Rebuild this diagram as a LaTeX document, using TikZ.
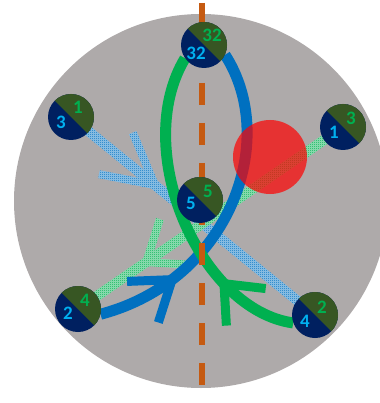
\documentclass[tikz,border=0pt]{standalone}
\usepackage{fontspec}
\setmainfont{Carlito}
\usetikzlibrary{calc,patterns,backgrounds,decorations.markings}

\definecolor{discgrey}{HTML}{AEAAAA}
\definecolor{navy}{HTML}{002060}
\definecolor{dkgreen}{HTML}{375623}
\definecolor{numgreen}{HTML}{00B050}
\definecolor{numblue}{HTML}{00B0F0}
\definecolor{lineblue}{HTML}{0070C0}
\definecolor{axisorange}{HTML}{C55A11}

\pgfdeclarepatternformonly{finecheck}{\pgfpointorigin}{\pgfpoint{2pt}{2pt}}{\pgfpoint{2pt}{2pt}}{%
    \pgfpathrectangle{\pgfpointorigin}{\pgfpoint{1pt}{1pt}}%
    \pgfpathrectangle{\pgfpoint{1pt}{1pt}}{\pgfpoint{1pt}{1pt}}%
    \pgfusepath{fill}}

\begin{document}
\begin{tikzpicture}[x=1pt, y=-1pt,
    sphere/.style={circle, minimum size=46pt, inner sep=0pt, fill=navy,
        path picture={\fill[dkgreen] (path picture bounding box.north west)
            -- (path picture bounding box.north east)
            -- (path picture bounding box.south east) -- cycle;}},
    gnum/.style={text=numgreen, inner sep=0pt, font=\fontsize{19}{19}\selectfont\bfseries},
    bnum/.style={text=numblue, inner sep=0pt, font=\fontsize{19}{19}\selectfont\bfseries},
    flow/.style={line width=11pt},
    hatch/.style={fill=#1!40!white, postaction={pattern=finecheck, pattern color=#1}},
    solidbarbs/.style args={#1 at #2 len #3 ang #4}{postaction={decorate},
        decoration={markings, mark=at position #2 with {
            \draw[#1, line width=9pt] (0, 0) -- (#4:#3) (0, 0) -- (-#4:#3);}}},
    hatchbarbs/.style args={#1 at #2 len #3 ang #4}{postaction={decorate},
        decoration={markings, mark=at position #2 with {
            \path[hatch=#1, rotate=#4] (0, -4) rectangle (#3, 4);
            \path[hatch=#1, rotate=-#4] (0, -4) rectangle (#3, 4);}}}]
    \useasboundingbox (0, 0) rectangle (379, 403);

    \node[sphere] (n32) at (204, 45) {};
    \node[sphere] (n31) at (71, 117) {};
    \node[sphere] (n13) at (343, 127) {};
    \node[sphere] (n5) at (200, 200) {};
    \node[sphere] (n24) at (78, 309) {};
    \node[sphere] (n42) at (315, 315) {};

    \node[gnum] (g32) at (212, 35) {32};
    \node[bnum] (b32) at (196, 53) {32};
    \node[gnum] (g31) at (78, 107) {1};
    \node[bnum] (b31) at (61, 122) {3};
    \node[gnum] (g13) at (351, 118) {3};
    \node[bnum] (b13) at (334, 132) {1};
    \node[gnum] (g5) at (208, 191) {5};
    \node[bnum] (b5) at (191, 203) {5};
    \node[gnum] (g24) at (85, 300) {4};
    \node[bnum] (b24) at (68, 313) {2};
    \node[gnum] (g42) at (322, 307) {2};
    \node[bnum] (b42) at (305, 321) {4};

    \coordinate (axtop) at (202, 3);
    \coordinate (axbot) at (202, 410);

    \begin{scope}[on background layer]
        \fill[discgrey] (201, 201) circle[radius=187];

        \path[hatch=lineblue] ($(n31)!5pt!90:(n42)$) -- ($(n42)!5pt!-90:(n31)$)
            -- ($(n42)!5pt!90:(n31)$) -- ($(n31)!5pt!-90:(n42)$) -- cycle;
        \path[hatchbarbs={lineblue at 0.317 len 57 ang 152}] (n31) -- (n42);
        \path[hatch=numgreen] ($(n13)!5pt!90:(n24)$) -- ($(n24)!5pt!-90:(n13)$)
            -- ($(n24)!5pt!90:(n13)$) -- ($(n13)!5pt!-90:(n24)$) -- cycle;
        \path[hatchbarbs={numgreen at 0.783 len 45 ang 142}] (n13) -- (n24);

        \draw[flow, lineblue, solidbarbs={lineblue at 0.24 len 45 ang 145}]
            (n24.-13) .. controls (230, 280) and (280, 140) .. (n32.-25);
        \draw[flow, numgreen, solidbarbs={numgreen at 0.25 len 42 ang 140}]
            (n42.200) .. controls (200, 310) and (130, 150) .. (n32.215);

        \draw[axisorange, line width=6pt, dash pattern=on 22pt off 18pt] (axtop) -- (axbot);

        \fill[red, opacity=0.7] (270, 157) circle[radius=37];
    \end{scope}
\end{tikzpicture}
\end{document}
